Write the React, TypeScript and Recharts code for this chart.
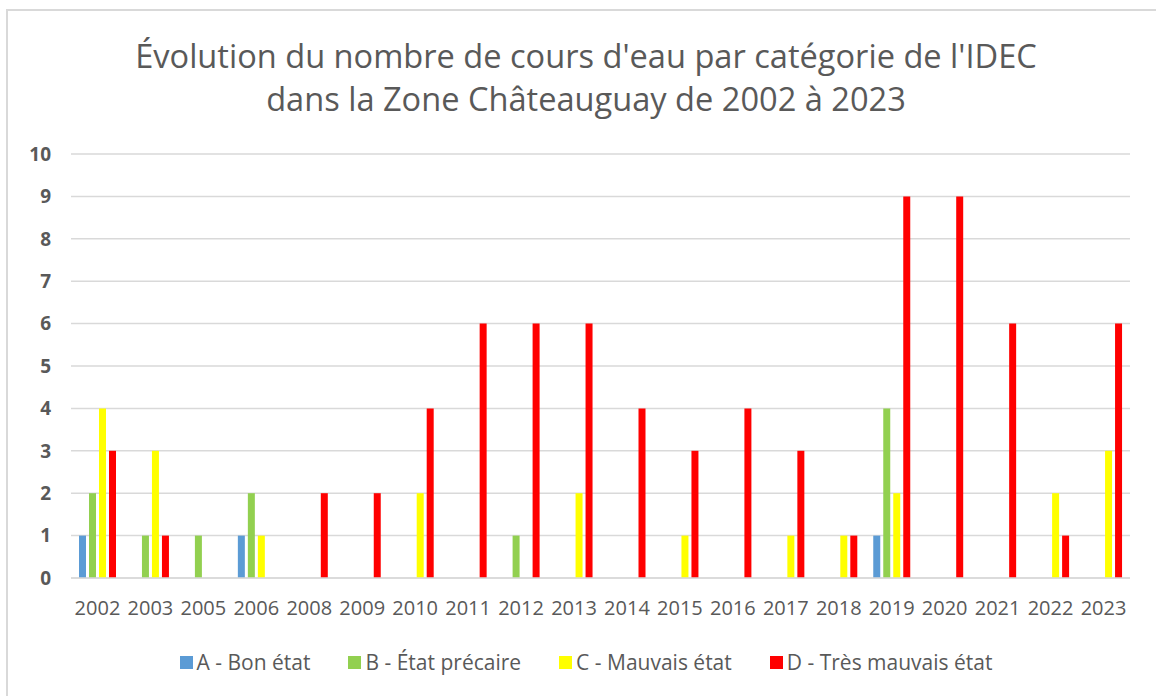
import React from "react";
import { BarChart, Bar, XAxis, YAxis, CartesianGrid } from "recharts";

const years = ["2002","2003","2005","2006","2008","2009","2010","2011","2012","2013","2014","2015","2016","2017","2018","2019","2020","2021","2022","2023"];
const seriesA = [1,0,0,1,0,0,0,0,0,0,0,0,0,0,0,1,0,0,0,0];
const seriesB = [2,1,1,2,0,0,0,0,1,0,0,0,0,0,0,4,0,0,0,0];
const seriesC = [4,3,0,1,0,0,2,0,0,2,0,1,0,1,1,2,0,0,2,3];
const seriesD = [3,1,0,0,2,2,4,6,6,6,4,3,4,3,1,9,9,6,1,6];
const yTicks = [0,1,2,3,4,5,6,7,8,9,10];

const seriesNames = ["A - Bon état", "B - État précaire", "C - Mauvais état", "D - Très mauvais état"];
const seriesColors = ["#5B9BD5", "#92D050", "#FFFF00", "#FF0000"];
const titleLines = ["Évolution du nombre de cours d'eau par catégorie de l'IDEC", "dans la Zone Châteauguay de 2002 à 2023"];

const data = years.map((y, i) => ({ year: y, A: seriesA[i], B: seriesB[i], C: seriesC[i], D: seriesD[i] }));

const FONT = "'Open Sans', sans-serif";
const GREY = "#595959";

export default function App() {
  return (
    <div style={{ position: "absolute", left: 0, top: 0, width: 1156, height: 696, background: "#fff", overflow: "hidden", fontFamily: FONT }}>
      <div style={{ position: "absolute", left: 6, top: 9, width: 1160, height: 700, border: "2px solid #D9D9D9", boxSizing: "border-box" }} />
      <div style={{ position: "absolute", left: 0, top: 34, width: 1156, textAlign: "center", color: GREY, fontSize: 32.6, lineHeight: "43px", paddingLeft: 8 }}>
        {titleLines.map((t) => <div key={t}>{t}</div>)}
      </div>
      <div style={{ position: "absolute", left: 0, top: 0 }}>
        <BarChart width={1156} height={696} data={data} margin={{ top: 154, right: 26, bottom: 78, left: 11 }} barSize={7} barGap={3}>
          <CartesianGrid vertical={false} stroke="#D9D9D9" strokeWidth={1.5} />
          <XAxis dataKey="year" axisLine={{ stroke: "#D9D9D9", strokeWidth: 1.5 }} tickLine={false} height={40} tickMargin={17}
            tick={{ fill: GREY, fontSize: 20, fontFamily: FONT }} interval={0} />
          <YAxis domain={[0, 10]} ticks={yTicks} axisLine={false} tickLine={false} width={60} tickMargin={14}
            tick={{ fill: GREY, fontSize: 19, fontWeight: 700, fontFamily: FONT }} interval={0} />
          <Bar dataKey="A" fill={seriesColors[0]} isAnimationActive={false} />
          <Bar dataKey="B" fill={seriesColors[1]} isAnimationActive={false} />
          <Bar dataKey="C" fill={seriesColors[2]} isAnimationActive={false} />
          <Bar dataKey="D" fill={seriesColors[3]} isAnimationActive={false} />
        </BarChart>
      </div>
      <div style={{ position: "absolute", left: 0, top: 648, width: 1156, display: "flex", justifyContent: "center", gap: 38, color: GREY, fontSize: 21, paddingLeft: 8 }}>
        {seriesNames.map((n, i) => (
          <div key={n} style={{ display: "flex", alignItems: "center", gap: 4 }}>
            <span style={{ width: 13, height: 13, background: seriesColors[i], display: "inline-block" }} />
            <span>{n}</span>
          </div>
        ))}
      </div>
    </div>
  );
}
